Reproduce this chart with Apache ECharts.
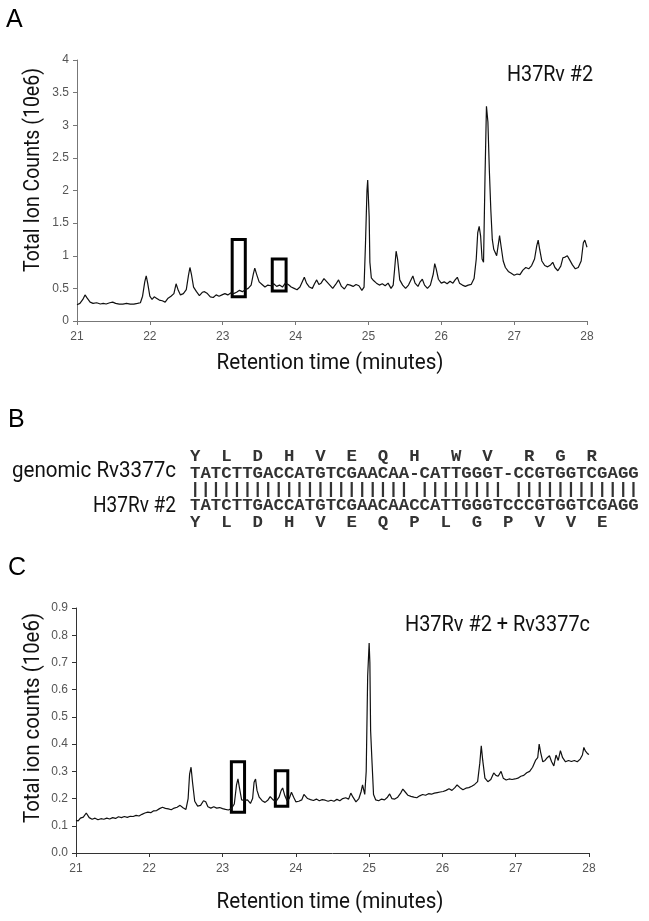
<!DOCTYPE html>
<html>
<head>
<meta charset="utf-8">
<script src="https://cdn.jsdelivr.net/npm/echarts@6/dist/echarts.min.js"></script>
<style>
html,body{margin:0;padding:0;background:#fff;}
#chart{width:649px;height:921px;}
</style>
</head>
<body>
<div id="chart"></div>
<script>
// ---------- Data ----------
var timesA = [21.00,21.04,21.08,21.11,21.14,21.18,21.22,21.27,21.32,21.36,21.40,21.45,21.49,21.53,21.58,21.63,21.68,21.73,21.78,21.83,21.87,21.90,21.93,21.95,21.97,22.00,22.03,22.06,22.09,22.13,22.17,22.21,22.25,22.29,22.33,22.36,22.39,22.42,22.46,22.50,22.53,22.55,22.57,22.60,22.64,22.68,22.72,22.75,22.79,22.83,22.87,22.91,22.95,22.99,23.03,23.07,23.11,23.15,23.19,23.23,23.27,23.31,23.35,23.39,23.42,23.44,23.47,23.50,23.54,23.58,23.62,23.66,23.70,23.74,23.78,23.82,23.86,23.90,23.94,23.98,24.02,24.06,24.10,24.12,24.15,24.19,24.23,24.26,24.29,24.32,24.35,24.39,24.43,24.47,24.51,24.55,24.59,24.63,24.67,24.71,24.75,24.79,24.83,24.87,24.91,24.94,24.96,24.98,24.99,25.01,25.02,25.04,25.07,25.11,25.15,25.19,25.23,25.27,25.31,25.34,25.36,25.38,25.40,25.43,25.47,25.51,25.55,25.58,25.61,25.64,25.68,25.71,25.74,25.77,25.81,25.85,25.89,25.91,25.93,25.96,26.00,26.04,26.08,26.12,26.16,26.19,26.22,26.25,26.29,26.33,26.37,26.41,26.45,26.48,26.50,26.52,26.54,26.56,26.58,26.60,26.62,26.64,26.66,26.68,26.70,26.72,26.74,26.76,26.78,26.80,26.82,26.85,26.88,26.92,26.96,27.00,27.04,27.08,27.12,27.16,27.20,27.24,27.28,27.31,27.33,27.35,27.38,27.42,27.46,27.50,27.53,27.56,27.60,27.64,27.67,27.70,27.73,27.76,27.80,27.84,27.88,27.92,27.95,27.97,28.00];
var countsA = [0.25,0.27,0.33,0.40,0.35,0.29,0.27,0.28,0.26,0.27,0.26,0.28,0.29,0.27,0.26,0.26,0.27,0.26,0.26,0.27,0.28,0.38,0.60,0.69,0.58,0.38,0.33,0.37,0.35,0.32,0.31,0.29,0.35,0.38,0.42,0.57,0.47,0.40,0.42,0.48,0.70,0.82,0.72,0.52,0.45,0.39,0.44,0.45,0.42,0.37,0.36,0.40,0.38,0.40,0.42,0.40,0.43,0.42,0.44,0.47,0.45,0.48,0.50,0.55,0.72,0.81,0.70,0.60,0.56,0.52,0.55,0.54,0.57,0.53,0.55,0.52,0.58,0.56,0.52,0.50,0.48,0.52,0.62,0.67,0.58,0.52,0.50,0.57,0.63,0.56,0.58,0.65,0.60,0.55,0.50,0.56,0.63,0.53,0.49,0.56,0.55,0.53,0.56,0.54,0.47,0.52,1.20,2.00,2.16,1.60,0.90,0.66,0.62,0.58,0.55,0.57,0.54,0.58,0.50,0.55,0.80,1.07,0.95,0.63,0.55,0.50,0.55,0.62,0.69,0.58,0.53,0.60,0.64,0.55,0.50,0.55,0.72,0.88,0.80,0.64,0.58,0.60,0.57,0.61,0.58,0.63,0.67,0.58,0.55,0.53,0.55,0.56,0.65,0.95,1.35,1.45,1.30,0.95,0.90,2.20,3.29,3.05,2.30,1.70,1.25,1.10,1.08,1.00,1.15,1.31,1.15,0.92,0.82,0.76,0.73,0.70,0.72,0.71,0.78,0.82,0.80,0.85,0.95,1.15,1.24,1.10,0.92,0.85,0.83,0.86,0.90,0.82,0.77,0.84,0.97,0.98,1.00,0.94,0.86,0.80,0.82,0.92,1.20,1.24,1.13];

var timesC = [21.00,21.03,21.06,21.10,21.14,21.18,21.22,21.26,21.30,21.34,21.38,21.42,21.46,21.50,21.54,21.58,21.62,21.66,21.70,21.74,21.78,21.82,21.86,21.90,21.94,21.98,22.02,22.06,22.10,22.14,22.18,22.22,22.26,22.30,22.34,22.38,22.42,22.46,22.50,22.53,22.55,22.57,22.59,22.62,22.66,22.70,22.74,22.77,22.80,22.84,22.88,22.92,22.96,23.00,23.04,23.08,23.12,23.16,23.19,23.21,23.23,23.26,23.30,23.34,23.38,23.41,23.43,23.45,23.47,23.50,23.54,23.58,23.62,23.65,23.69,23.73,23.77,23.80,23.82,23.85,23.88,23.91,23.94,23.97,24.00,24.04,24.08,24.11,24.13,24.16,24.20,24.24,24.28,24.32,24.36,24.40,24.44,24.48,24.52,24.56,24.60,24.64,24.68,24.72,24.75,24.78,24.82,24.86,24.89,24.91,24.94,24.96,24.98,25.00,25.01,25.02,25.04,25.06,25.09,25.13,25.17,25.21,25.25,25.28,25.31,25.35,25.39,25.43,25.46,25.49,25.53,25.57,25.61,25.65,25.69,25.73,25.77,25.81,25.85,25.89,25.93,25.97,26.01,26.05,26.09,26.13,26.17,26.20,26.24,26.28,26.32,26.36,26.40,26.44,26.48,26.51,26.53,26.55,26.58,26.62,26.66,26.70,26.73,26.76,26.80,26.83,26.87,26.91,26.95,26.99,27.03,27.07,27.11,27.15,27.19,27.23,27.27,27.30,27.32,27.34,27.37,27.40,27.43,27.46,27.49,27.52,27.55,27.58,27.61,27.64,27.68,27.72,27.76,27.80,27.84,27.88,27.91,27.93,27.95,27.98,28.00];
var countsC = [0.120,0.118,0.128,0.132,0.147,0.130,0.124,0.128,0.122,0.126,0.124,0.128,0.125,0.130,0.127,0.133,0.130,0.134,0.131,0.135,0.134,0.138,0.136,0.142,0.147,0.150,0.148,0.155,0.156,0.163,0.168,0.164,0.162,0.159,0.165,0.168,0.175,0.166,0.160,0.200,0.290,0.315,0.260,0.190,0.172,0.175,0.192,0.188,0.170,0.165,0.170,0.165,0.167,0.163,0.160,0.158,0.163,0.180,0.250,0.272,0.240,0.195,0.193,0.195,0.182,0.200,0.260,0.272,0.230,0.205,0.192,0.186,0.195,0.207,0.195,0.190,0.205,0.230,0.239,0.210,0.192,0.200,0.223,0.205,0.188,0.190,0.195,0.215,0.217,0.200,0.196,0.193,0.198,0.192,0.196,0.194,0.190,0.194,0.190,0.197,0.192,0.200,0.203,0.198,0.220,0.205,0.188,0.200,0.225,0.250,0.215,0.300,0.650,0.771,0.700,0.450,0.330,0.215,0.195,0.192,0.198,0.195,0.205,0.217,0.200,0.198,0.205,0.220,0.235,0.225,0.212,0.208,0.205,0.203,0.210,0.215,0.212,0.218,0.216,0.220,0.222,0.224,0.226,0.230,0.236,0.230,0.240,0.250,0.240,0.232,0.238,0.240,0.245,0.252,0.262,0.330,0.394,0.340,0.275,0.262,0.270,0.294,0.285,0.282,0.300,0.275,0.268,0.272,0.270,0.272,0.275,0.282,0.285,0.295,0.300,0.315,0.340,0.350,0.400,0.370,0.335,0.340,0.350,0.357,0.335,0.320,0.360,0.340,0.376,0.350,0.335,0.340,0.336,0.340,0.335,0.345,0.360,0.388,0.375,0.365,0.362];

// highlighted boxes: [t0, v0, t1, v1]
var boxesA = [[23.13, 0.37, 23.31, 1.25], [23.68, 0.46, 23.87, 0.95]];
var boxesC = [[23.12, 0.150, 23.30, 0.335], [23.72, 0.172, 23.89, 0.302]];

var xTicks = [21, 22, 23, 24, 25, 26, 27, 28];
var yTicksA = [0, 0.5, 1, 1.5, 2, 2.5, 3, 3.5, 4];
var yTicksC = [0, 0.1, 0.2, 0.3, 0.4, 0.5, 0.6, 0.7, 0.8, 0.9];

var panelLabels = ['A', 'B', 'C'];
var titleA = 'H37Rv #2';
var titleC = 'H37Rv #2 + Rv3377c';
var yNameA = 'Total Ion Counts (10e6)';
var yNameC = 'Total ion counts (10e6)';
var xName = 'Retention time (minutes)';

var seqLabels = ['genomic Rv3377c', 'H37Rv #2'];
var aaTop = 'Y  L  D  H  V  E  Q  H   W  V   R  G  R';
var seqTop = 'TATCTTGACCATGTCGAACAA-CATTGGGT-CCGTGGTCGAGG';
var seqBot = 'TATCTTGACCATGTCGAACAACCATTGGGTCCCGTGGTCGAGG';
var aaBot = 'Y  L  D  H  V  E  Q  P  L  G  P  V  V  E';

// ---------- Build ----------
function zip(t, v) { var o = []; for (var i = 0; i < t.length; i++) o.push([t[i], v[i]]); return o; }
function matchLine(a, b) { var s = ''; for (var i = 0; i < a.length; i++) s += (a[i] === b[i] && a[i] !== '-') ? '|' : ' '; return s; }
function areas(b) { return b.map(function (r) { return [{ coord: [r[0], r[1]] }, { coord: [r[2], r[3]] }]; }); }

var SANS = "Roboto, 'Liberation Sans', Arial, sans-serif";
var MONO = "'Liberation Mono','Courier New',monospace";
var TFONT = '22px ' + SANS;

var measureCtx = document.createElement('canvas').getContext('2d');
function fit(text, font, w) { measureCtx.font = font; return w / measureCtx.measureText(text).width; }

// fitted label: text stretched to the reference width
function label(text, x, y, w, align, rot) {
  return {
    type: 'text', x: x, y: y, rotation: rot || 0, scaleX: fit(text, TFONT, w),
    style: { text: text, font: TFONT, fill: '#111', textAlign: align, textVerticalAlign: 'middle' }
  };
}

function xAxisCfg(gi, color) {
  return {
    type: 'value', gridIndex: gi, min: xTicks[0], max: xTicks[xTicks.length - 1], interval: 1,
    axisLine: { lineStyle: { color: color, width: 1 } },
    axisTick: { show: true, inside: false, length: 4, lineStyle: { color: color } },
    axisLabel: { color: '#555', fontSize: 12, fontFamily: "'Liberation Sans', Arial, sans-serif", margin: 10 },
    splitLine: { show: false }
  };
}
function yAxisCfg(gi, ticks, color, fmt) {
  return {
    type: 'value', gridIndex: gi, min: ticks[0], max: ticks[ticks.length - 1], interval: ticks[1] - ticks[0],
    axisLine: { show: true, lineStyle: { color: color, width: 1 } },
    axisTick: { show: true, inside: false, length: 4, lineStyle: { color: color } },
    axisLabel: { color: '#555', fontSize: 12, fontFamily: "'Liberation Sans', Arial, sans-serif", margin: 8, formatter: fmt },
    splitLine: { show: false }
  };
}

var boxStyle = { color: 'rgba(0,0,0,0)', borderColor: '#000', borderWidth: 3 };
var seqFont = 'bold 17.4px ' + MONO;

var chart = echarts.init(document.getElementById('chart'), null, { renderer: 'canvas' });
chart.setOption({
  animation: false,
  backgroundColor: '#fff',
  grid: [
    { left: 77, right: 62, top: 60, bottom: 600 },
    { left: 76, right: 60, top: 608, bottom: 68 }
  ],
  xAxis: [xAxisCfg(0, '#777'), xAxisCfg(1, '#333')],
  yAxis: [
    yAxisCfg(0, yTicksA, '#777', function (v) { return String(v); }),
    yAxisCfg(1, yTicksC, '#333', function (v) { return v.toFixed(1); })
  ],
  series: [
    {
      type: 'line', xAxisIndex: 0, yAxisIndex: 0, data: zip(timesA, countsA), showSymbol: false,
      lineStyle: { color: '#111', width: 1.2 },
      markArea: { silent: true, itemStyle: boxStyle, data: areas(boxesA) }
    },
    {
      type: 'line', xAxisIndex: 1, yAxisIndex: 1, data: zip(timesC, countsC), showSymbol: false,
      lineStyle: { color: '#111', width: 1.2 },
      markArea: { silent: true, itemStyle: boxStyle, data: areas(boxesC) }
    }
  ],
  graphic: [
    { type: 'text', x: 6, y: 20, style: { text: panelLabels[0], font: '25px Liberation Sans, Arial, sans-serif', fill: '#000', textVerticalAlign: 'middle' } },
    { type: 'text', x: 8, y: 420, style: { text: panelLabels[1], font: '25px Liberation Sans, Arial, sans-serif', fill: '#000', textVerticalAlign: 'middle' } },
    { type: 'text', x: 8, y: 568, style: { text: panelLabels[2], font: '25px Liberation Sans, Arial, sans-serif', fill: '#000', textVerticalAlign: 'middle' } },

    label(titleA, 593, 75, 86, 'right'),
    label(titleC, 590, 625, 185, 'right'),
    label(yNameA, 33, 170, 204, 'center', Math.PI / 2),
    label(yNameC, 33, 718, 210, 'center', Math.PI / 2),
    label(xName, 330, 363, 227, 'center'),
    label(xName, 330, 902, 227, 'center'),
    label(seqLabels[0], 176, 471, 164, 'right'),
    label(seqLabels[1], 176, 506, 83, 'right'),

    { type: 'text', x: 190, y: 457, style: { text: aaTop, font: seqFont, fill: '#333', textVerticalAlign: 'middle' } },
    { type: 'text', x: 190, y: 474, style: { text: seqTop, font: seqFont, fill: '#333', textVerticalAlign: 'middle' } },
    { type: 'text', x: 190, y: 490, style: { text: matchLine(seqTop, seqBot), font: seqFont, fill: '#333', textVerticalAlign: 'middle' } },
    { type: 'text', x: 190, y: 506, style: { text: seqBot, font: seqFont, fill: '#333', textVerticalAlign: 'middle' } },
    { type: 'text', x: 190, y: 523, style: { text: aaBot, font: seqFont, fill: '#333', textVerticalAlign: 'middle' } }
  ]
});
</script>
</body>
</html>
